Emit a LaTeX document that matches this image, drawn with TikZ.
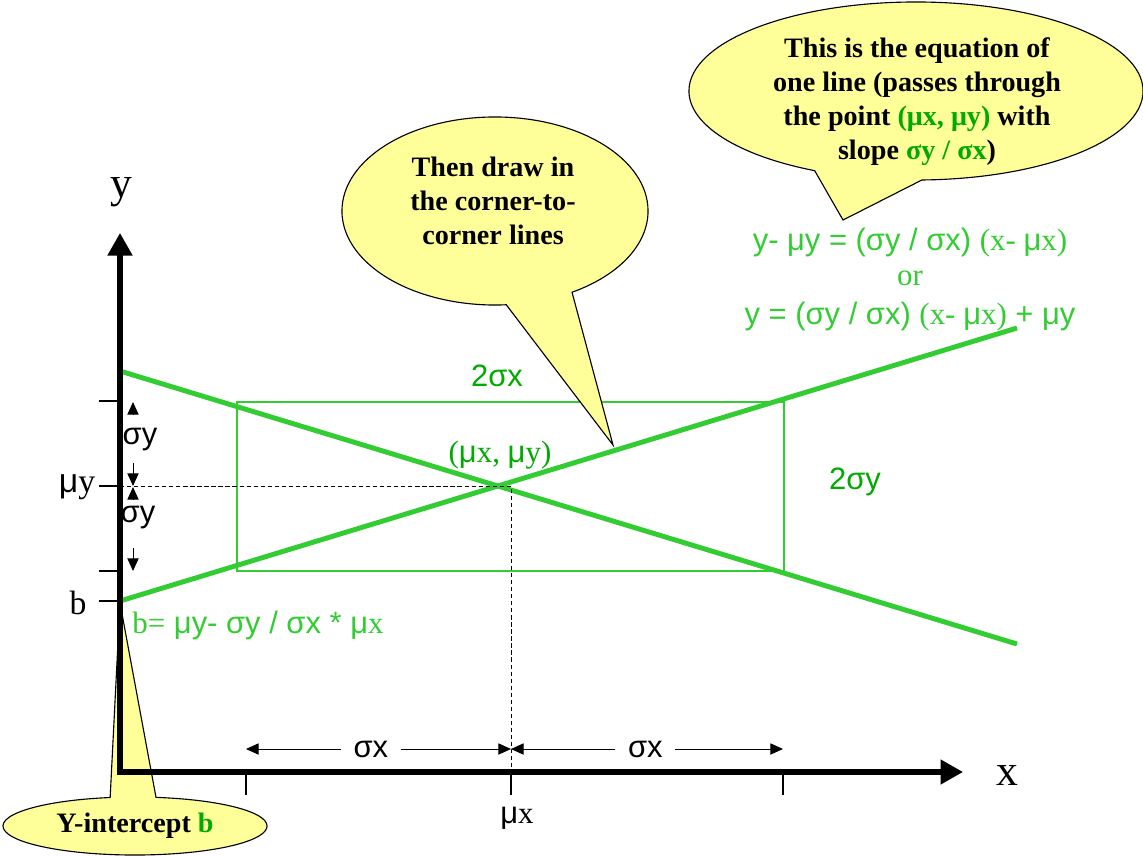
\documentclass[tikz,border=0pt]{standalone}
\usepackage{fontspec}
\setmainfont{Liberation Serif}
\setsansfont{Liberation Sans}
\usepackage{tikz}
\usetikzlibrary{arrows.meta, shapes.callouts, positioning}

\definecolor{linegreen}{RGB}{51,204,51}
\definecolor{textgreen}{RGB}{0,170,0}
\definecolor{calloutyellow}{RGB}{255,255,153}
\newcommand{\smu}{{\sffamily μ}}

\begin{document}
\begin{tikzpicture}[x=0.025cm, y=-0.025cm,
        axis/.style={line width=3.6pt, line join=miter, {Triangle[length=16pt, width=17pt]}-{Triangle[length=16pt, width=17pt]}},
        tickmark/.style={line width=0.9pt},
        guide/.style={line width=0.7pt, dash pattern=on 3pt off 2pt},
        fitline/.style={draw=linegreen, line width=3.5pt},
        sdbox/.style={draw=linegreen, line width=1pt},
        dimline/.style={line width=0.7pt, {Triangle[length=9pt, width=8pt]}-{Triangle[length=9pt, width=8pt]}},
        dimhead/.style={line width=0.7pt, -{Triangle[length=9pt, width=8pt]}},
        lbl/.style={font=\sffamily\fontsize{22}{26}\selectfont},
        rmlbl/.style={font=\rmfamily\fontsize{22}{26}\selectfont},
        axlbl/.style={font=\rmfamily\fontsize{31}{35}\selectfont},
        bubble/.style={ellipse callout, draw=black, fill=calloutyellow, line width=0.8pt, callout pointer arc=20},
        note/.style={font=\rmfamily\bfseries\fontsize{20}{24.2}\selectfont, align=center}
    ]
        \useasboundingbox (0,0) rectangle (1143,855);

        % Intercept callout (sits behind the axes)
        \node[bubble, minimum width=6.6cm, minimum height=1.45cm, callout absolute pointer={(120,603)}] (cb) at (135,826) {};
        \node[note] at (cb.center) {Y-intercept \textcolor{textgreen}{b}};

        % Box and corner-to-corner lines
        \draw[sdbox] (237,402) rectangle (784,571);
        \draw[fitline] (120,371) -- (1017,644);
        \draw[fitline] (120,601) -- (1017,328);

        % Guides to the mean point
        \coordinate (O) at (120,772);
        \coordinate (mu) at (511,486);
        \draw[guide] (O |- mu) -- (mu) -- (mu |- O);

        % Ticks
        \foreach \ty in {401,486,571,601}
            \draw[tickmark] (99,\ty) -- (120,\ty);
        \foreach \tx in {246,511,783}
            \draw[tickmark] (\tx,772) -- (\tx,795);

        % Axes
        \draw[axis] (120,233) -- (O) -- (963,772);
        \node[axlbl] (ylab) at (121,192) {y};
        \node[axlbl] (xlab) at (1007,775) {x};
        \node[rmlbl, font=\rmfamily\fontsize{24}{28}\selectfont] (muy) at (77,487) {\smu y};
        \node[rmlbl, font=\rmfamily\fontsize{24}{28}\selectfont] (blab) at (78,603) {b};
        \node[rmlbl] (mux) at (517,818) {\smu x};

        % Spread markers
        \node[lbl] (sy1) at (140,440) {σy};
        \node[lbl] (sy2) at (138,518) {σy};
        \draw[dimhead] (133,415) -- (133,402);
        \draw[dimhead] (133,463) -- (133,486);
        \draw[dimhead] (133,500) -- (133,487);
        \draw[dimhead] (133,548) -- (133,571);
        \draw[dimline] (511,749) -- node[lbl, fill=white, inner xsep=9pt, inner ysep=0pt, xshift=-0.19cm] {σx} (246,749);
        \draw[dimline] (511,749) -- node[lbl, fill=white, inner xsep=9pt, inner ysep=0pt, xshift=-0.04cm] {σx} (783,749);

        % Green labels
        \node[lbl, text=textgreen] (w) at (497,376) {2σx};
        \node[lbl, text=textgreen] (h) at (855,482) {2σy};
        \node[rmlbl, text=textgreen] (pt) at (500,455) {(\smu x, \smu y)};
        \node[lbl, text=linegreen] (bform) at (258,625) {{\rmfamily b=} μy- σy / σx * μ{\rmfamily x}};

        % Equation of the line
        \node[lbl, text=linegreen] (eq1) at (910,243) {y- μy = (σy / σx) {\rmfamily (x- \smu x)}};
        \node[rmlbl, text=linegreen] (or) at (910,278) {or};
        \node[lbl, text=linegreen] (eq2) at (910,317) {y = (σy / σx) {\rmfamily (x- \smu x)} + μy};

        % Callouts
        \node[bubble, callout pointer arc=28, minimum width=11.35cm, minimum height=4.45cm, callout absolute pointer={(843,220)}] (c1) at (916,91) {};
        \node[note] at (917,102) {This is the equation of\\one line (passes through\\the point \textcolor{textgreen}{(μx, μy)} with\\slope \textcolor{textgreen}{σy / σx})};

        \node[bubble, callout pointer arc=26, minimum width=7.65cm, minimum height=4.7cm, callout absolute pointer={(613,445)}] (c2) at (495,211) {};
        \node[note] at (493,201) {Then draw in\\the corner-to-\\corner lines};
\end{tikzpicture}
\end{document}
